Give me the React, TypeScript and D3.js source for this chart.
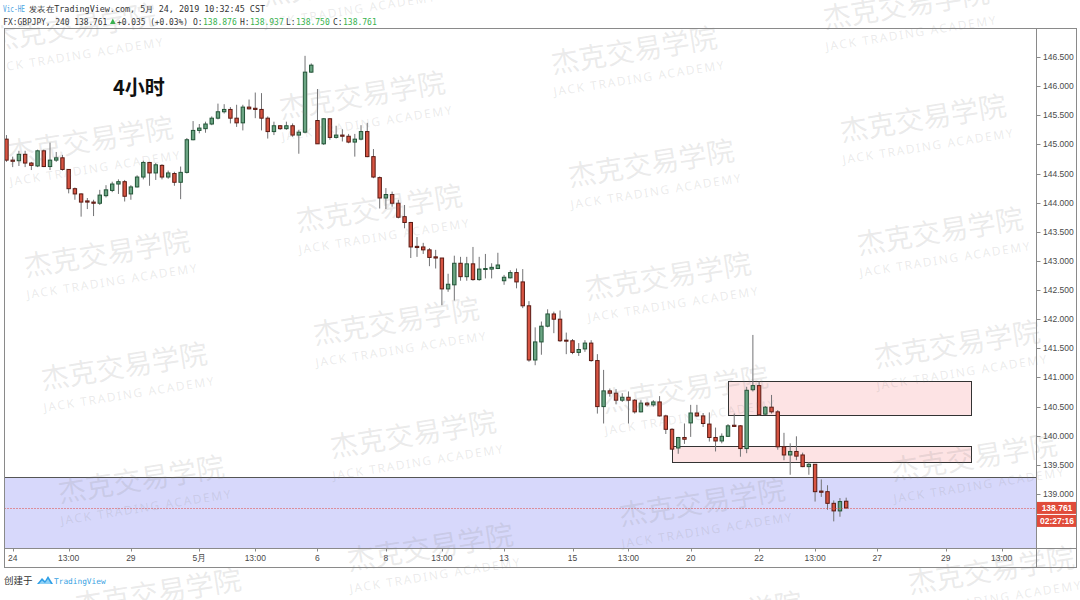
import React from "react";
import * as d3 from "d3";

const W = 1080;
const H = 600;

// ---- data (GBPJPY 4h) ----
const firstIndex = -1;
const opens = [
  145.09, 144.73, 144.72, 144.83, 144.68, 144.63, 144.89, 144.62, 144.73, 144.77,
  144.57, 144.24, 144.15, 144.03, 144.01, 143.99, 144.12, 144.21, 144.32, 144.36,
  144.15, 144.27, 144.44, 144.69, 144.51, 144.64, 144.44, 144.5, 144.35, 144.52,
  145.08, 145.24, 145.27, 145.35, 145.45, 145.56, 145.6, 145.45, 145.37, 145.64,
  145.62, 145.6, 145.45, 145.22, 145.32, 145.27, 145.32, 145.16, 145.21, 146.24,
  145.41, 145.01, 145.44, 145.12, 145.16, 145.14, 145.04, 145.09, 145.22, 144.79,
  144.43, 144.08, 144.14, 143.99, 143.76, 143.66, 143.25, 143.24, 143.19, 143.07,
  143.05, 142.52, 142.59, 142.96, 142.73, 142.95, 142.68, 142.86, 142.86, 142.87,
  142.66, 142.71, 142.8, 142.64, 142.23, 141.3, 141.61, 141.88, 142.09, 142.0,
  141.64, 141.63, 141.43, 141.49, 141.59, 141.29, 140.5, 140.77, 140.73, 140.61,
  140.66, 140.61, 140.41, 140.56, 140.53, 140.58, 140.34, 140.11, 139.79, 139.97,
  140.22, 140.39, 140.34, 140.2, 139.97, 139.91, 139.99, 140.18, 140.17, 139.78,
  140.79, 140.86, 140.37, 140.49, 140.41, 139.81, 139.67, 139.73, 139.67, 139.47,
  139.51, 139.05, 139.04, 138.84, 138.71, 138.876,
];
const highs = [
  145.16, 144.79, 144.89, 144.89, 144.7, 144.91, 144.91, 145.03, 144.87, 144.82,
  144.57, 144.26, 144.16, 144.08, 144.05, 144.22, 144.3, 144.36, 144.4, 144.39,
  144.3, 144.47, 144.72, 144.7, 144.68, 144.66, 144.55, 144.53, 144.62, 145.11,
  145.4, 145.35, 145.39, 145.48, 145.7, 145.69, 145.64, 145.68, 145.68, 145.77,
  145.89, 145.88, 145.48, 145.39, 145.33, 145.39, 145.36, 145.25, 146.52, 146.39,
  145.95, 145.45, 145.45, 145.32, 145.26, 145.18, 145.18, 145.33, 145.37, 144.92,
  144.45, 144.25, 144.19, 144.05, 143.96, 143.67, 143.41, 143.31, 143.22, 143.19,
  143.05, 142.78, 143.09, 143.07, 143.07, 143.24, 143.07, 143.12, 142.96, 143.14,
  142.76, 142.84, 142.87, 142.86, 142.31, 141.86, 141.96, 142.17, 142.13, 142.15,
  141.77, 141.66, 141.59, 141.64, 141.64, 141.4, 141.13, 140.81, 140.8, 140.73,
  140.76, 140.63, 140.61, 140.58, 140.61, 140.68, 140.36, 140.13, 139.98, 140.21,
  140.53, 140.53, 140.39, 140.4, 140.14, 140.04, 140.2, 140.38, 140.18, 140.84,
  141.73, 140.93, 140.51, 140.7, 140.44, 140.05, 139.87, 139.99, 139.71, 139.55,
  139.51, 139.25, 139.15, 138.89, 138.93, 138.937,
];
const lows = [
  144.7, 144.61, 144.63, 144.61, 144.56, 144.61, 144.61, 144.56, 144.7, 144.55,
  144.16, 144.05, 143.76, 143.89, 143.77, 143.96, 144.09, 144.18, 144.15, 144.02,
  144.05, 144.26, 144.4, 144.29, 144.39, 144.4, 144.41, 144.29, 144.06, 144.5,
  145.07, 145.19, 145.2, 145.33, 145.43, 145.53, 145.36, 145.3, 145.24, 145.6,
  145.45, 145.24, 145.1, 145.16, 145.25, 145.25, 145.13, 144.84, 145.19, 146.23,
  145.01, 144.99, 145.08, 145.1, 145.05, 145.02, 144.79, 145.07, 144.78, 144.42,
  143.9, 143.89, 143.93, 143.73, 143.56, 143.05, 143.07, 143.12, 142.91, 142.87,
  142.24, 142.47, 142.32, 142.66, 142.66, 142.66, 142.66, 142.7, 142.7, 142.86,
  142.59, 142.7, 142.53, 142.19, 141.27, 141.21, 141.39, 141.86, 141.76, 141.61,
  141.4, 141.4, 141.37, 141.44, 141.27, 140.38, 140.21, 140.67, 140.54, 140.58,
  140.21, 140.38, 140.4, 140.5, 140.5, 140.33, 140.03, 139.77, 139.69, 139.86,
  139.98, 140.32, 140.15, 139.9, 139.73, 139.87, 139.98, 140.15, 139.64, 139.7,
  140.76, 140.34, 140.36, 140.38, 139.76, 139.58, 139.33, 139.58, 139.46, 139.33,
  138.87, 138.95, 138.73, 138.53, 138.61, 138.75,
];
const closes = [
  144.73, 144.71, 144.83, 144.68, 144.64, 144.89, 144.62, 144.73, 144.77, 144.57,
  144.24, 144.15, 144.01, 144.01, 143.99, 144.13, 144.22, 144.32, 144.36, 144.11,
  144.27, 144.44, 144.69, 144.51, 144.65, 144.44, 144.51, 144.35, 144.52, 145.08,
  145.24, 145.28, 145.35, 145.45, 145.56, 145.6, 145.45, 145.37, 145.64, 145.61,
  145.6, 145.45, 145.22, 145.32, 145.27, 145.32, 145.16, 145.21, 146.24, 146.36,
  145.01, 145.44, 145.12, 145.16, 145.14, 145.04, 145.09, 145.22, 144.79, 144.44,
  144.08, 144.14, 143.99, 143.75, 143.66, 143.24, 143.23, 143.19, 143.06, 143.05,
  142.52, 142.6, 142.96, 142.73, 142.95, 142.68, 142.86, 142.87, 142.89, 142.93,
  142.72, 142.8, 142.64, 142.23, 141.3, 141.61, 141.88, 142.09, 142.0, 141.63,
  141.63, 141.43, 141.48, 141.59, 141.29, 140.5, 140.77, 140.73, 140.61, 140.66,
  140.61, 140.41, 140.56, 140.53, 140.58, 140.34, 140.11, 139.77, 139.97, 139.94,
  140.39, 140.34, 140.21, 139.97, 139.91, 139.99, 140.17, 140.16, 139.78, 140.78,
  140.86, 140.36, 140.49, 140.41, 139.81, 139.67, 139.73, 139.65, 139.47, 139.51,
  139.04, 139.03, 138.84, 138.71, 138.87, 138.761,
];

const xTickIndex = [0, 9, 19, 30, 39, 49, 60, 69, 79, 90, 99, 109, 120, 129, 139, 150, 159];
const xTickLabels = ["24", "13:00", "29", "5月", "13:00", "6", "8", "13:00", "13", "15", "13:00", "20", "22", "13:00", "27", "29", "13:00"];
const yTickValues = [139.0, 139.5, 140.0, 140.5, 141.0, 141.5, 142.0, 142.5, 143.0, 143.5, 144.0, 144.5, 145.0, 145.5, 146.0, 146.5];

const zoneStart = [115, 106];
const zoneEnd = [154, 154];
const zoneHigh = [140.945, 139.824];
const zoneLow = [140.37, 139.545];

const bandTop = 139.287;
const lastPrice = 138.761;
const countdown = "02:27:16";

// ---- layout ----
const plotLeft = 4.5;
const plotRight = 1036.5;
const plotTop = 28.5;
const plotBottom = 548.5;
const frameRight = 1076.5;
const frameBottom = 567.5;

const x = d3.scaleLinear().domain([0, 150]).range([12.7, 945.7]);
const y = d3.scaleLinear().domain([146.5, 139.0]).range([57, 494]);

const UP = "#6ba583";
const UP_B = "#225437";
const DN = "#d75442";
const DN_B = "#5b1a13";
const WICK = "#737375";
const AXIS_TXT = "#4a4a4a";
const FRAME = "#8a8a8a";
const GREEN_TXT = "#37b24d";

function Watermarks() {
  const items: { cx: number; cy: number }[] = [];
  const ox = 90, oy = 140;
  const u = [272, -45];
  const v = [17, 113];
  for (let i = 0; i < 4; i++) {
    for (let j = -1; j < 6; j++) {
      const cx = ox + i * u[0] + j * v[0];
      const cy = oy + i * u[1] + j * v[1];
      if (cx > -120 && cx < 1200 && cy > -40 && cy < 650) items.push({ cx, cy });
    }
  }
  return (
    <g pointerEvents="none">
      {items.map((p, k) => (
        <g key={k} transform={`translate(${p.cx},${p.cy}) rotate(-9)`}>
          <text
            x={0}
            y={10.5}
            textAnchor="middle"
            fontFamily="'Noto Sans CJK SC', sans-serif"
            fontSize={28}
            fill="#808080"
            fillOpacity={0.17}
          >
            杰克交易学院
          </text>
          <text
            x={0}
            y={33}
            textAnchor="middle"
            fontFamily="'Noto Sans', sans-serif"
            fontSize={12}
            textLength={172}
            lengthAdjust="spacing"
            fill="#808080"
            fillOpacity={0.17}
          >
            JACK TRADING ACADEMY
          </text>
        </g>
      ))}
    </g>
  );
}

export default function App() {
  const bars = opens.map((o, k) => ({
    i: firstIndex + k,
    o,
    h: highs[k],
    l: lows[k],
    c: closes[k],
  }));
  const bodyW = 3.4;
  const mono = "'DejaVu Sans Mono', monospace";
  const axisFont = "'Liberation Sans', Arial, sans-serif";

  return (
    <svg width={W} height={H} style={{ position: "absolute", left: 0, top: 0, background: "#fff" }}>
      <rect x={0} y={0} width={W} height={H} fill="#fff" />
      <defs>
        <clipPath id="plotClip">
          <rect x={plotLeft} y={plotTop} width={plotRight - plotLeft} height={plotBottom - plotTop} />
        </clipPath>
        <clipPath id="outerClip">
          <rect x={0} y={plotBottom} width={W} height={H - plotBottom} />
        </clipPath>
        <clipPath id="topClip">
          <rect x={0} y={0} width={W} height={plotTop} />
        </clipPath>
        <clipPath id="rightClip">
          <rect x={plotRight} y={plotTop} width={W - plotRight} height={plotBottom - plotTop} />
        </clipPath>
      </defs>

      {/* header */}
      <text x={3} y={12} fontFamily={mono} fontSize={8} fill="#4aa3df" textLength={22} lengthAdjust="spacingAndGlyphs">Vic-HE</text>
      <text x={29} y={12} fontFamily={mono} fontSize={8} fill="#333" textLength={236} lengthAdjust="spacingAndGlyphs">
        发表在TradingView.com, 5月 24, 2019 10:32:45 CST
      </text>
      <text x={3.3} y={24.5} fontFamily={mono} fontSize={8} fill="#333" textLength={104} lengthAdjust="spacingAndGlyphs">FX:GBPJPY, 240 138.761</text>
      <path d="M110,24 L112.8,18.5 L115.6,24 Z" fill={GREEN_TXT} />
      <text x={117} y={24.5} fontFamily={mono} fontSize={8} fill="#333" textLength={71} lengthAdjust="spacingAndGlyphs">+0.035 (+0.03%)</text>
      <text x={193} y={24.5} fontFamily={mono} fontSize={8} fill="#333">O:</text>
      <text x={203} y={24.5} fontFamily={mono} fontSize={8} fill={GREEN_TXT}>138.876</text>
      <text x={240} y={24.5} fontFamily={mono} fontSize={8} fill="#333">H:</text>
      <text x={250} y={24.5} fontFamily={mono} fontSize={8} fill={GREEN_TXT}>138.937</text>
      <text x={286} y={24.5} fontFamily={mono} fontSize={8} fill="#333">L:</text>
      <text x={296} y={24.5} fontFamily={mono} fontSize={8} fill={GREEN_TXT}>138.750</text>
      <text x={333} y={24.5} fontFamily={mono} fontSize={8} fill="#333">C:</text>
      <text x={343} y={24.5} fontFamily={mono} fontSize={8} fill={GREEN_TXT}>138.761</text>

      {/* plot contents */}
      <g clipPath="url(#plotClip)">
        {/* blue band */}
        <rect x={plotLeft} y={y(bandTop)} width={plotRight - plotLeft} height={plotBottom - y(bandTop)} fill="#d7d8fb" />
        <line x1={plotLeft} x2={plotRight} y1={Math.round(y(bandTop)) + 0.5} y2={Math.round(y(bandTop)) + 0.5} stroke="#555" strokeWidth={1} />

        {/* zones */}
        {zoneStart.map((s, k) => (
          <rect
            key={k}
            x={Math.round(x(s)) + 0.5}
            y={Math.round(y(zoneHigh[k])) + 0.5}
            width={Math.round(x(zoneEnd[k]) - x(s))}
            height={Math.round(y(zoneLow[k]) - y(zoneHigh[k]))}
            fill="#fde3e4"
            stroke="#333"
            strokeWidth={1}
          />
        ))}

        {/* candles */}
        {bars.map((b) => {
          const cx = x(b.i);
          const up = b.c >= b.o;
          const top = y(Math.max(b.o, b.c));
          const bot = y(Math.min(b.o, b.c));
          return (
            <g key={b.i}>
              <line x1={cx} x2={cx} y1={y(b.h)} y2={y(b.l)} stroke={WICK} strokeWidth={1} />
              <rect
                x={cx - bodyW / 2}
                y={top}
                width={bodyW}
                height={Math.max(bot - top, 1)}
                fill={up ? UP : DN}
                stroke={up ? UP_B : DN_B}
                strokeWidth={1}
              />
            </g>
          );
        })}

        {/* last price line */}
        <line x1={plotLeft} x2={plotRight} y1={Math.round(y(lastPrice)) + 0.5} y2={Math.round(y(lastPrice)) + 0.5} stroke="#e0453a" strokeWidth={1} strokeDasharray="1,2" />

        <Watermarks />
      </g>

      {/* title */}
      <text x={113} y={95} fontFamily="'Noto Sans CJK SC', sans-serif" fontWeight={700} fontSize={20} fill="#111">4小时</text>

      {/* frame */}
      <rect x={plotLeft} y={plotTop} width={frameRight - plotLeft} height={frameBottom - plotTop} fill="none" stroke={FRAME} strokeWidth={1} />
      <line x1={plotRight} x2={plotRight} y1={plotTop} y2={frameBottom} stroke={FRAME} strokeWidth={1} />
      <line x1={plotLeft} x2={frameRight} y1={plotBottom} y2={plotBottom} stroke={FRAME} strokeWidth={1} />

      {/* y axis */}
      {yTickValues.map((v) => (
        <g key={v}>
          <line x1={plotRight} x2={plotRight + 4} y1={Math.round(y(v)) + 0.5} y2={Math.round(y(v)) + 0.5} stroke={FRAME} />
          <text x={1043} y={y(v) + 3} fontFamily={axisFont} fontSize={8.5} fill={AXIS_TXT}>
            {v.toFixed(3)}
          </text>
        </g>
      ))}

      {/* price labels */}
      <rect x={plotRight + 0.5} y={y(lastPrice) - 6} width={frameRight - plotRight - 1} height={12} fill="#e04b3a" />
      <text x={1057} y={y(lastPrice) + 3} textAnchor="middle" fontFamily={axisFont} fontSize={8.5} fontWeight={700} fill="#fff">
        {lastPrice.toFixed(3)}
      </text>
      <rect x={plotRight + 0.5} y={y(lastPrice) + 7} width={frameRight - plotRight - 1} height={12} fill="#e04b3a" />
      <text x={1057} y={y(lastPrice) + 16} textAnchor="middle" fontFamily={axisFont} fontSize={8.5} fontWeight={700} fill="#fff">
        {countdown}
      </text>

      {/* x axis */}
      {xTickIndex.map((ti, k) => (
        <g key={k}>
          <line x1={Math.round(x(ti)) + 0.5} x2={Math.round(x(ti)) + 0.5} y1={plotBottom} y2={plotBottom + 3} stroke={FRAME} />
          <text x={x(ti)} y={561} textAnchor="middle" fontFamily={axisFont} fontSize={8.5} fill={AXIS_TXT}>
            {xTickLabels[k]}
          </text>
        </g>
      ))}

      {/* footer */}
      <text x={4} y={584} fontFamily="'Noto Sans CJK SC', sans-serif" fontSize={9.5} fill="#333">创建于</text>
      <g transform="translate(37,575)">
        <path d="M0,9 L5,3 L8,6 L11,1 L16,9 Z" fill="#2f9fe6" />
        <path d="M2,9 L5,5.5 L8,8 L11,4 L14,9 Z" fill="#8fd0f5" />
      </g>
      <text x={54} y={584} fontFamily={mono} fontSize={7.8} fill="#3aa3e3">TradingView</text>

      {/* watermark parts outside plot */}
      <g clipPath="url(#outerClip)">
        <Watermarks />
      </g>
      <g clipPath="url(#topClip)">
        <Watermarks />
      </g>
      <g clipPath="url(#rightClip)">
        <Watermarks />
      </g>
    </svg>
  );
}
